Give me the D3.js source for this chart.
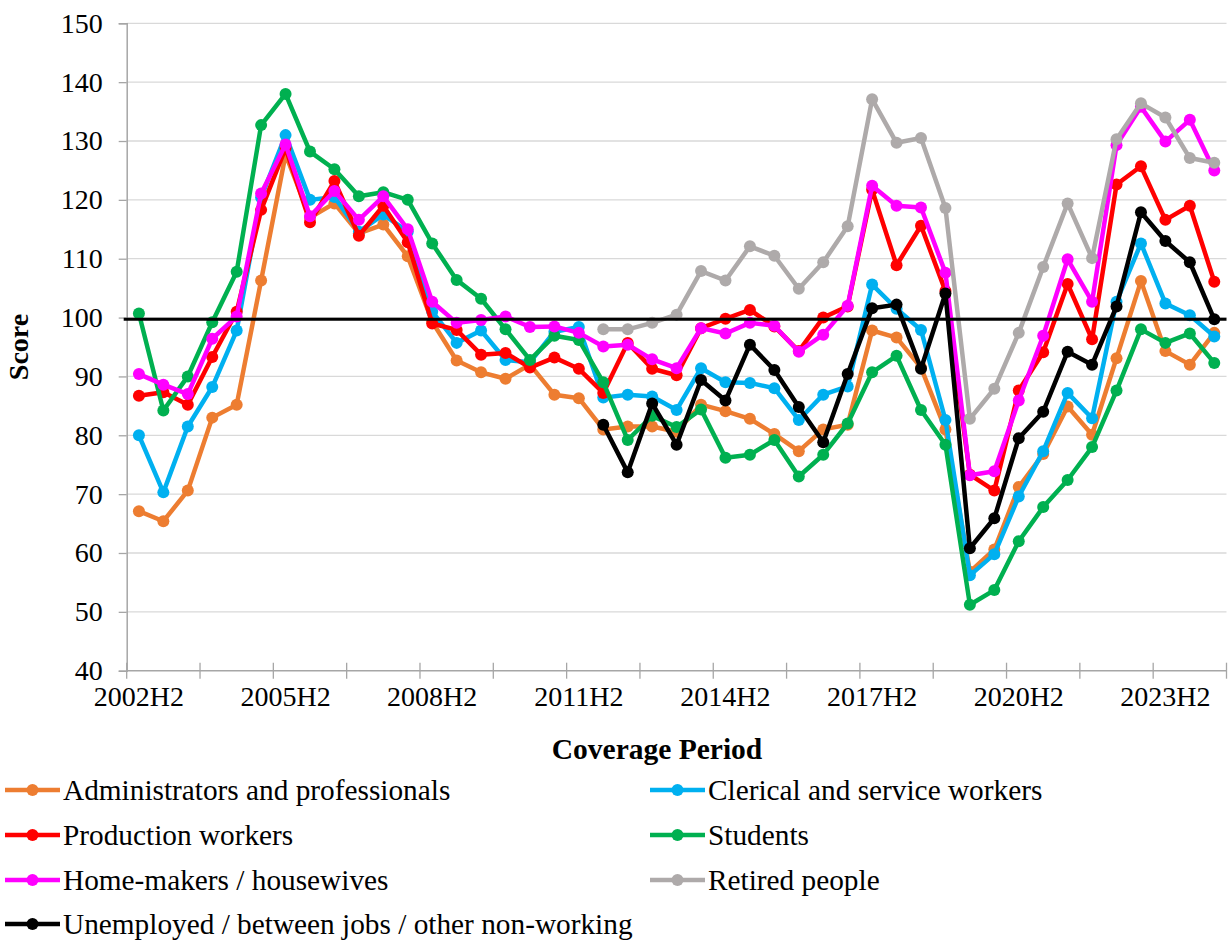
<!DOCTYPE html>
<html><head><meta charset="utf-8">
<script src="https://cdn.jsdelivr.net/npm/d3@7"></script>
<style>
html,body{margin:0;padding:0;background:#fff;}
svg text{font-family:"Times New Roman","Liberation Serif",serif;fill:#000;}
</style></head>
<body>
<svg id="chart" width="1229" height="941"></svg>
<script>
const categories = ["2002H2","2003H1","2003H2","2004H1","2004H2","2005H1","2005H2","2006H1","2006H2","2007H1","2007H2","2008H1","2008H2","2009H1","2009H2","2010H1","2010H2","2011H1","2011H2","2012H1","2012H2","2013H1","2013H2","2014H1","2014H2","2015H1","2015H2","2016H1","2016H2","2017H1","2017H2","2018H1","2018H2","2019H1","2019H2","2020H1","2020H2","2021H1","2021H2","2022H1","2022H2","2023H1","2023H2","2024H1","2024H2"];
const xTickLabels = ["2002H2","2005H2","2008H2","2011H2","2014H2","2017H2","2020H2","2023H2"];
const yTicks = [40,50,60,70,80,90,100,110,120,130,140,150];
const referenceLevel = 99.7;

const administrators = [67.1,65.4,70.6,83.0,85.2,106.3,127.7,117.0,119.4,114.3,115.8,110.4,99.3,92.7,90.7,89.6,92.0,86.9,86.3,81.0,81.5,81.5,80.6,85.2,84.1,82.8,80.2,77.3,81.0,81.8,97.8,96.6,91.5,81.0,56.8,60.6,71.2,76.8,84.9,80.1,93.1,106.2,94.3,92.0,97.4];
const clerical = [80.0,70.3,81.5,88.2,97.8,120.4,131.0,120.0,120.5,114.6,117.5,114.6,101.0,95.7,97.8,92.8,92.4,97.6,98.4,86.4,86.9,86.6,84.3,91.4,89.0,88.9,88.0,82.6,86.9,88.3,105.6,101.5,97.9,82.6,56.2,59.8,69.6,77.3,87.2,82.9,102.7,112.6,102.4,100.4,96.8];
const production = [86.7,87.3,85.2,93.3,101.0,118.3,128.8,116.2,123.2,113.9,119.0,112.8,99.0,97.9,93.7,94.0,91.5,93.2,91.3,87.2,95.7,91.3,90.2,98.2,99.8,101.3,98.5,94.3,100.0,101.9,121.7,108.9,115.6,104.5,73.3,70.6,87.6,94.1,105.7,96.3,122.6,125.7,116.6,119.0,106.1];
const students = [100.7,84.2,90.0,99.2,107.8,132.7,138.0,128.2,125.2,120.6,121.3,120.0,112.6,106.4,103.2,98.0,92.8,96.9,96.2,89.0,79.2,83.3,81.4,84.4,76.2,76.7,79.2,73.0,76.7,82.0,90.7,93.5,84.3,78.4,51.2,53.7,62.0,67.8,72.4,78.0,87.6,98.0,95.7,97.3,92.3];
const homemakers = [90.4,88.6,87.0,96.4,100.2,121.1,129.4,117.2,121.5,116.6,120.6,115.0,102.7,99.1,99.6,100.2,98.4,98.5,97.4,95.1,95.4,92.9,91.4,98.2,97.3,99.1,98.6,94.2,97.1,102.0,122.4,119.0,118.7,107.6,73.2,73.9,85.9,96.9,109.9,102.7,129.3,135.8,129.9,133.6,125.0];
const retired = [null,null,null,null,null,null,null,null,null,null,null,null,null,null,null,null,null,null,null,98.0,98.0,99.1,100.5,107.9,106.3,112.1,110.5,104.9,109.4,115.5,137.1,129.7,130.5,118.6,82.8,87.9,97.4,108.6,119.4,110.1,130.3,136.4,134.0,127.1,126.3];
const unemployed = [null,null,null,null,null,null,null,null,null,null,null,null,null,null,null,null,null,null,null,81.8,73.7,85.4,78.4,89.4,85.9,95.4,91.1,84.8,78.8,90.4,101.6,102.2,91.3,104.1,60.8,65.9,79.5,84.0,94.2,92.0,101.9,117.9,113.0,109.4,99.7];

const seriesNames = ["Administrators and professionals","Clerical and service workers","Production workers","Students","Home-makers / housewives","Retired people","Unemployed / between jobs / other non-working"];
const seriesColors = ["#ED7D31","#00B0F0","#FF0000","#00B050","#FF00FF","#AEAAAA","#000000"];
const seriesValues = [administrators, clerical, production, students, homemakers, retired, unemployed];

const svg = d3.select("#chart");
const plot = {left:126.7, right:1226.5, top:23.3, bottom:670.7};

const x = d3.scaleBand().domain(categories).range([plot.left, plot.right]).padding(0);
const cx = c => x(c) + x.bandwidth()/2;
const y = d3.scaleLinear().domain([40,150]).range([plot.bottom, plot.top]);

// gridlines
svg.append("g").selectAll("line").data(yTicks.filter(t=>t>40)).join("line")
  .attr("x1", plot.left).attr("x2", plot.right)
  .attr("y1", d=>y(d)).attr("y2", d=>y(d))
  .attr("stroke", "#D9D9D9").attr("stroke-width", 1.3);

// y axis
const yAxis = svg.append("g").attr("transform", `translate(${plot.left},0)`)
  .call(d3.axisLeft(y).tickValues(yTicks).tickSize(8).tickPadding(16).tickFormat(d3.format("d")));
yAxis.select(".domain").attr("stroke", "#A6A6A6").attr("stroke-width", 1.5);
yAxis.selectAll(".tick line").attr("stroke", "#A6A6A6").attr("stroke-width", 1.3);
yAxis.selectAll("text").attr("font-size", 28).attr("fill","#000");

// x axis
const xAxisG = svg.append("g");
xAxisG.append("line").attr("x1", plot.left).attr("x2", plot.right)
  .attr("y1", plot.bottom).attr("y2", plot.bottom).attr("stroke", "#A6A6A6").attr("stroke-width", 1.5);
const boundaryCats = categories.filter((c,i)=> i%3===0);
xAxisG.selectAll("line.tk").data(boundaryCats.concat(["__end"])).join("line").attr("class","tk")
  .attr("x1", d=> d==="__end" ? plot.right : x(d)).attr("x2", d=> d==="__end" ? plot.right : x(d))
  .attr("y1", plot.bottom-8).attr("y2", plot.bottom+8)
  .attr("stroke", "#A6A6A6").attr("stroke-width", 1.3);
xAxisG.selectAll("text").data(xTickLabels).join("text")
  .attr("x", d=>cx(d)).attr("y", 706)
  .attr("text-anchor","middle").attr("font-size", 28).text(d=>d);

// axis titles
svg.append("text").attr("transform", `translate(28,${(plot.top+plot.bottom)/2}) rotate(-90)`)
  .attr("text-anchor","middle").attr("font-size", 28).attr("font-weight","bold").text("Score");
svg.append("text").attr("x", 657).attr("y", 759)
  .attr("text-anchor","middle").attr("font-size", 29.5).attr("font-weight","bold").text("Coverage Period");

// series
const line = d3.line().defined(d=>d.v!==null).x(d=>cx(d.c)).y(d=>y(d.v));
seriesValues.forEach((vals, si) => {
  const data = categories.map((c,i)=>({c, v: vals[i]}));
  const g = svg.append("g");
  g.append("path").datum(data).attr("d", line).attr("fill","none")
    .attr("stroke", seriesColors[si]).attr("stroke-width", 4.5).attr("stroke-linejoin","round");
  g.selectAll("circle").data(data.filter(d=>d.v!==null)).join("circle")
    .attr("cx", d=>cx(d.c)).attr("cy", d=>y(d.v)).attr("r", 6).attr("fill", seriesColors[si]);
});

// reference line
svg.append("line").attr("x1", plot.left-3).attr("x2", plot.right)
  .attr("y1", y(referenceLevel)).attr("y2", y(referenceLevel))
  .attr("stroke", "#000").attr("stroke-width", 3);

// legend
const legendPos = [[5,790],[650,790],[5,835],[650,835],[5,880],[650,880],[5,924]];
seriesNames.forEach((name, si) => {
  const [lx, ly] = legendPos[si];
  const g = svg.append("g");
  g.append("line").attr("x1", lx).attr("x2", lx+55).attr("y1", ly).attr("y2", ly)
    .attr("stroke", seriesColors[si]).attr("stroke-width", 4.5);
  g.append("circle").attr("cx", lx+27.5).attr("cy", ly).attr("r", 6).attr("fill", seriesColors[si]);
  g.append("text").attr("x", lx+58).attr("y", ly).attr("dy","0.35em")
    .attr("font-size", 29.3).text(name);
});
</script>
</body></html>
